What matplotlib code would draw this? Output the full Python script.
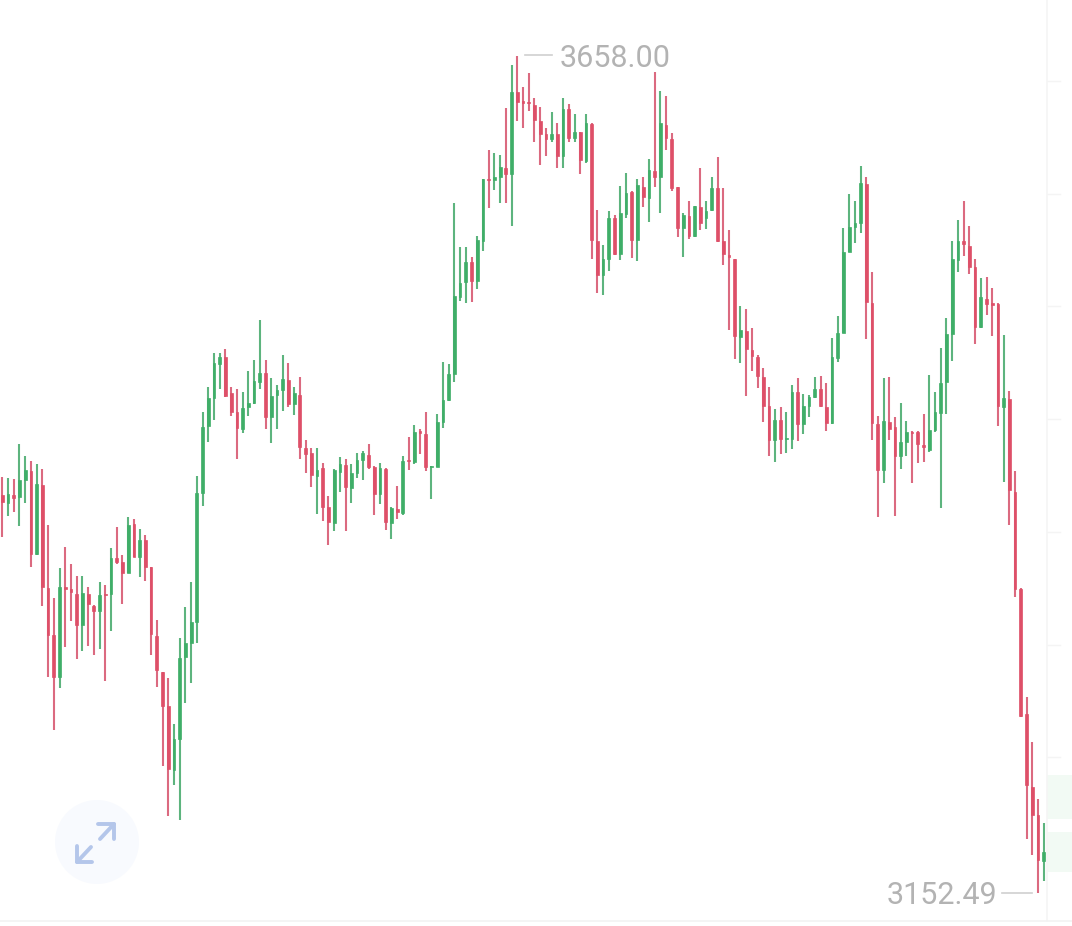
import matplotlib
matplotlib.use('Agg')
import matplotlib.pyplot as plt
import numpy as np

plt.rcParams['font.family'] = ['Roboto', 'DejaVu Sans']

# R = falling candle, G = rising candle
directions = ("RGRGGRGRRRGRRRGRRGRGRRGRGRRRRRGGGGGGGGGRRRGGGGRGGGRGRRRGRRGGRGGGRRGRGRGRGRRGGGGGGGRGGRGGRGRRRRRRGRGRGRGRRGGRGGRGRGRGRRRGRGRGGRRRRGRRRRRGRGGRGGGRRGGGGGGRRRGRRGGRRRGGGGGGRRRGRRRGRRRRRRG")

highs = [3403.7, 3403.1, 3402.5, 3423.6, 3416.4, 3413.4, 3411.5, 3408.5, 3374.7, 3330.6,
         3348.7, 3361.4, 3351.2, 3343.9, 3343.9, 3337.3, 3326.4, 3340.3, 3338.5, 3360.8,
         3373.5, 3356.6, 3379.5, 3378.3, 3372.3, 3368.7, 3349.3, 3317.3, 3285.9, 3282.3,
         3254.5, 3306.5, 3325.2, 3340.3, 3404.3, 3442.9, 3458.0, 3478.6, 3478.6, 3481.0,
         3458.0, 3456.8, 3455.0, 3467.7, 3474.4, 3498.5, 3474.4, 3463.5, 3459.3, 3477.4,
         3472.5, 3458.0, 3464.1, 3426.0, 3421.2, 3421.2, 3412.1, 3392.2, 3408.5, 3415.8,
         3414.6, 3411.5, 3418.2, 3419.4, 3423.6, 3410.3, 3412.1, 3409.1, 3385.6, 3398.3,
         3416.4, 3427.9, 3435.1, 3432.7, 3442.9, 3410.3, 3441.7, 3473.1, 3471.9, 3569.2,
         3542.6, 3542.6, 3536.6, 3549.3, 3583.7, 3601.2, 3599.4, 3598.2, 3626.6, 3652.5,
         3658.0, 3639.3, 3647.7, 3632.6, 3627.2, 3614.5, 3624.2, 3617.5, 3632.6, 3629.0,
         3623.0, 3612.1, 3623.0, 3617.5, 3565.0, 3543.8, 3564.4, 3562.0, 3579.5, 3587.3,
         3576.4, 3583.7, 3584.9, 3595.8, 3648.3, 3636.8, 3633.8, 3611.5, 3578.9, 3563.2,
         3570.4, 3567.4, 3590.3, 3570.4, 3584.9, 3597.0, 3578.2, 3552.9, 3535.4, 3507.0,
         3505.2, 3493.7, 3477.4, 3469.5, 3458.0, 3444.8, 3446.0, 3442.9, 3459.3, 3463.5,
         3453.8, 3453.2, 3464.1, 3464.7, 3460.5, 3487.6, 3500.9, 3554.1, 3574.6, 3570.4,
         3591.5, 3584.9, 3527.5, 3440.5, 3463.5, 3464.1, 3439.9, 3448.4, 3437.5, 3431.5,
         3431.5, 3441.7, 3465.3, 3455.0, 3481.6, 3499.7, 3546.2, 3558.9, 3570.4, 3555.3,
         3535.4, 3523.9, 3524.5, 3517.8, 3508.8, 3489.5, 3455.6, 3407.3, 3336.7, 3270.8,
         3243.6, 3209.2, 3194.7]

body_tops = [3392.8, 3393.4, 3392.8, 3401.9, 3407.9, 3407.3, 3399.5, 3398.9, 3336.7, 3308.3,
             3337.3, 3337.3, 3336.0, 3333.0, 3333.6, 3333.0, 3325.8, 3332.4, 3333.0, 3354.8,
             3354.8, 3352.4, 3374.7, 3375.3, 3365.6, 3365.6, 3349.3, 3307.7, 3285.9, 3265.4,
             3245.4, 3294.4, 3303.4, 3316.1, 3394.0, 3433.9, 3451.4, 3472.5, 3476.2, 3476.2,
             3454.4, 3442.9, 3445.4, 3448.4, 3461.7, 3466.5, 3466.5, 3452.6, 3456.2, 3462.9,
             3462.3, 3454.4, 3453.2, 3421.2, 3418.2, 3407.9, 3409.1, 3385.6, 3407.9, 3411.5,
             3410.9, 3406.1, 3414.0, 3418.2, 3417.0, 3409.7, 3409.1, 3408.5, 3385.0, 3384.4,
             3413.4, 3414.0, 3430.9, 3431.5, 3429.7, 3410.3, 3436.9, 3450.2, 3465.9, 3513.0,
             3520.9, 3533.6, 3533.6, 3546.8, 3583.7, 3583.7, 3584.9, 3590.9, 3590.3, 3636.2,
             3636.2, 3630.8, 3630.2, 3628.4, 3618.7, 3610.9, 3610.9, 3610.9, 3626.0, 3626.0,
             3612.1, 3612.1, 3617.5, 3616.9, 3546.2, 3535.4, 3560.1, 3560.1, 3563.2, 3575.2,
             3575.8, 3580.1, 3578.9, 3589.1, 3588.5, 3617.5, 3616.3, 3607.8, 3578.9, 3562.0,
             3561.3, 3567.4, 3566.8, 3564.4, 3578.2, 3578.2, 3546.2, 3537.8, 3535.4, 3492.5,
             3491.9, 3480.4, 3476.2, 3464.1, 3446.6, 3438.1, 3438.1, 3427.2, 3455.0, 3455.0,
             3446.6, 3452.0, 3456.8, 3456.8, 3446.0, 3476.2, 3490.7, 3539.6, 3554.7, 3557.1,
             3581.3, 3580.7, 3508.8, 3435.7, 3437.5, 3436.9, 3433.9, 3424.8, 3430.9, 3430.9,
             3430.9, 3423.0, 3432.1, 3442.9, 3460.5, 3490.1, 3535.4, 3546.2, 3546.2, 3543.2,
             3530.5, 3512.4, 3511.2, 3508.8, 3508.2, 3451.4, 3450.8, 3394.6, 3336.0, 3260.5,
             3216.5, 3199.6, 3177.2]

body_bots = [3388.6, 3388.0, 3391.0, 3391.6, 3401.9, 3357.2, 3357.2, 3337.3, 3308.3, 3282.9,
             3282.9, 3336.0, 3334.2, 3314.3, 3314.3, 3327.0, 3322.8, 3322.8, 3332.4, 3333.0,
             3352.4, 3345.7, 3345.7, 3355.4, 3355.4, 3349.3, 3308.9, 3287.1, 3265.4, 3227.3,
             3226.7, 3245.4, 3295.0, 3303.4, 3316.1, 3394.0, 3434.5, 3451.4, 3471.9, 3452.6,
             3442.9, 3433.3, 3432.7, 3446.0, 3448.4, 3461.1, 3439.9, 3439.9, 3453.2, 3456.2,
             3447.8, 3447.8, 3421.8, 3417.6, 3404.9, 3404.3, 3385.6, 3376.5, 3375.9, 3406.7,
             3397.7, 3397.1, 3406.1, 3414.0, 3409.7, 3393.4, 3393.4, 3376.5, 3375.9, 3382.6,
             3382.0, 3413.4, 3412.8, 3430.3, 3409.7, 3409.7, 3409.7, 3436.9, 3450.2, 3465.9,
             3512.4, 3521.5, 3522.1, 3522.1, 3546.2, 3583.1, 3583.1, 3584.9, 3586.7, 3586.7,
             3630.2, 3629.6, 3629.6, 3619.3, 3610.9, 3607.8, 3607.8, 3597.6, 3597.6, 3608.4,
             3608.4, 3595.2, 3594.6, 3546.8, 3525.7, 3525.7, 3535.4, 3538.4, 3538.4, 3562.6,
             3546.8, 3546.8, 3572.8, 3572.2, 3584.9, 3584.9, 3608.4, 3578.2, 3554.1, 3554.1,
             3549.3, 3549.3, 3557.1, 3560.1, 3565.0, 3546.2, 3538.4, 3536.6, 3488.9, 3488.3,
             3481.0, 3476.8, 3464.7, 3446.6, 3426.0, 3426.0, 3426.6, 3426.6, 3426.6, 3435.7,
             3435.7, 3446.6, 3452.0, 3446.6, 3436.3, 3436.3, 3475.6, 3490.7, 3539.6, 3554.7,
             3557.1, 3509.4, 3436.3, 3407.9, 3407.9, 3432.7, 3416.4, 3416.4, 3424.8, 3430.3,
             3423.6, 3421.8, 3420.0, 3432.1, 3442.3, 3461.1, 3490.1, 3534.8, 3544.4, 3530.5,
             3494.3, 3494.3, 3508.2, 3507.6, 3446.6, 3446.0, 3395.8, 3336.0, 3259.3, 3217.7,
             3199.6, 3172.4, 3171.8]

lows = [3367.5, 3380.1, 3382.6, 3374.1, 3388.0, 3349.3, 3356.6, 3325.8, 3282.9, 3250.9,
        3276.3, 3301.0, 3316.7, 3293.8, 3298.6, 3301.6, 3296.2, 3299.8, 3280.5, 3310.7,
        3351.2, 3327.0, 3345.7, 3355.4, 3343.3, 3340.9, 3296.2, 3276.9, 3229.1, 3199.0,
        3217.6, 3196.5, 3267.2, 3279.3, 3303.4, 3386.2, 3424.8, 3438.1, 3456.8, 3452.0,
        3440.5, 3414.6, 3430.3, 3440.5, 3447.8, 3456.8, 3432.7, 3424.2, 3432.7, 3443.5,
        3446.0, 3441.1, 3414.6, 3406.1, 3397.7, 3381.3, 3377.1, 3362.6, 3371.1, 3394.6,
        3371.1, 3388.0, 3403.1, 3401.9, 3408.5, 3380.7, 3387.4, 3371.7, 3366.2, 3378.3,
        3380.7, 3407.9, 3411.5, 3417.6, 3407.3, 3390.4, 3409.7, 3433.3, 3449.6, 3461.1,
        3510.0, 3508.8, 3509.4, 3517.2, 3540.2, 3566.2, 3577.0, 3569.2, 3569.2, 3555.3,
        3618.7, 3614.5, 3624.8, 3606.0, 3592.1, 3597.6, 3606.0, 3590.3, 3590.3, 3606.0,
        3606.0, 3586.7, 3593.3, 3535.4, 3514.8, 3513.6, 3528.1, 3537.8, 3534.8, 3560.1,
        3536.0, 3534.2, 3566.8, 3557.7, 3578.9, 3563.2, 3601.2, 3576.4, 3548.7, 3536.6,
        3547.4, 3548.7, 3552.9, 3553.5, 3564.4, 3545.6, 3531.7, 3492.5, 3475.0, 3472.5,
        3452.6, 3467.7, 3457.4, 3436.9, 3416.4, 3412.8, 3417.6, 3418.2, 3420.6, 3425.4,
        3429.7, 3439.9, 3451.4, 3446.0, 3431.5, 3435.7, 3473.1, 3490.7, 3539.6, 3545.0,
        3551.1, 3487.0, 3426.0, 3379.5, 3400.1, 3426.0, 3380.1, 3408.5, 3416.4, 3400.1,
        3412.1, 3412.8, 3418.8, 3430.9, 3385.0, 3441.7, 3473.8, 3527.5, 3537.2, 3526.3,
        3484.0, 3493.7, 3501.5, 3488.9, 3434.5, 3400.7, 3374.7, 3331.2, 3258.7, 3185.0,
        3175.4, 3152.49, 3159.7]

# faint price levels and depth bands in the right strip
level_prices = [3642.9, 3574.6, 3507.0, 3438.7, 3370.5, 3302.2, 3234.6]
band_prices = [(3197.1, 3223.7), (3165.1, 3189.3)]

RED = '#DE4F68'
GREEN = '#3FAE68'
RED_WICK = '#DB6A80'
GREEN_WICK = '#5DB47E'
LABEL = '#B3B3B3'

W, H = 1072, 926

fig = plt.figure(figsize=(W / 100, H / 100), dpi=100, facecolor='white')
ax = fig.add_axes([0, 0, 1, 1])
ax.set_xlim(-0.402, 186.94)
ax.set_ylim(3132.5, 3691.8)
ax.axis('off')

# right hand strip
strip_left = 1047 / W
for low, high in band_prices:
    ax.axhspan(low, high, xmin=strip_left, xmax=1, color='#F2FAF4', lw=0, zorder=0)
for p in level_prices:
    ax.axhline(p, xmin=strip_left, xmax=1060 / W, color='#F4F4F4', lw=1, zorder=0)

x = np.arange(len(highs))
up = np.array([d == 'G' for d in directions])
tops = np.array(body_tops)
bots = np.array(body_bots)

ax.vlines(x, lows, highs, colors=np.where(up, GREEN_WICK, RED_WICK), linewidth=1.5, zorder=2)
ax.bar(x, tops - bots, bottom=bots, width=0.48, color=np.where(up, GREEN, RED),
       edgecolor=np.where(up, GREEN, RED), linewidth=0.5, zorder=3)

# max / min labels
ax.annotate('%.2f' % max(highs), xy=(x[np.argmax(highs)], max(highs)), xytext=(30.3, -1.8),
            textcoords='offset points', color=LABEL, fontsize=22, va='center', ha='left')
ax.annotate('%.2f' % min(lows), xy=(x[np.argmin(lows)], min(lows)), xytext=(-29.5, -1.8),
            textcoords='offset points', color=LABEL, fontsize=22, va='center', ha='right')

# overlay in pixels for the page furniture
over = fig.add_axes([0, 0, 1, 1])
over.set_xlim(0, W)
over.set_ylim(H, 0)
over.axis('off')
over.patch.set_alpha(0)

over.plot([525, 552], [55, 55], color='#CFCFCF', lw=1.2)
over.plot([1002, 1032], [893, 893], color='#CFCFCF', lw=1.2)
over.plot([1047, 1047], [0, 921], color='#F5F5F5', lw=1.2)
over.plot([0, W], [921, 921], color='#F2F2F2', lw=1.2)

over.add_patch(plt.Circle((97, 842), 42, color='#F8FAFE', lw=0))
icon = dict(color='#B4C6EA', lw=2.8, solid_capstyle='round', solid_joinstyle='round')
over.plot([98, 114, 114], [824, 824, 839], **icon)
over.plot([114, 100], [824, 839], **icon)
over.plot([77, 77, 92], [846, 862, 862], **icon)
over.plot([77, 91], [862, 847], **icon)

fig.savefig('out.png', dpi=100, facecolor='white')
